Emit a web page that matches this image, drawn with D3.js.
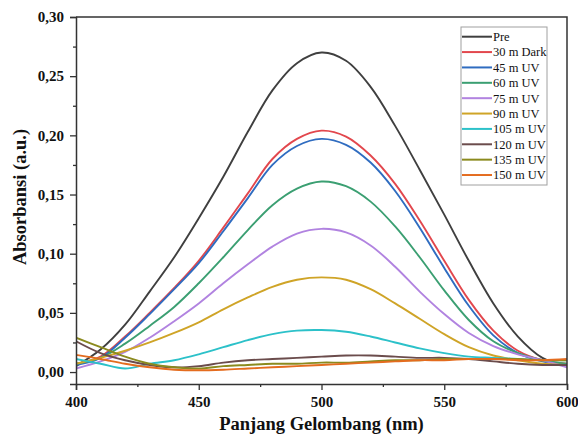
<!DOCTYPE html>
<html>
<head>
<meta charset="utf-8">
<script src="https://cdn.jsdelivr.net/npm/d3@7"></script>
<style>
  body { margin: 0; background: #fff; }
  svg { display: block; }
</style>
</head>
<body>
<div id="chart"></div>
<script>
// UV-Vis absorbance spectra
const wavelengths = [400, 410, 420, 430, 440, 450, 460, 470, 480, 490, 500, 510, 520, 530, 540, 550, 560, 570, 580, 590, 600];

const seriesNames = ["Pre", "30 m Dark", "45 m UV", "60 m UV", "75 m UV", "90 m UV", "105 m UV", "120 m UV", "135 m UV", "150 m UV"];
const seriesColors = ["#3f3f3f", "#e2474d", "#2f6cc0", "#3b9f72", "#b183e0", "#cfa427", "#2cc1c9", "#6b4c4c", "#8b8a1e", "#e46c1f"];

const pre    = [0.005, 0.019, 0.040, 0.068, 0.097, 0.130, 0.165, 0.203, 0.238, 0.261, 0.270, 0.263, 0.241, 0.208, 0.171, 0.133, 0.094, 0.058, 0.030, 0.012, 0.005];
const dark30 = [0.007, 0.013, 0.030, 0.050, 0.071, 0.094, 0.122, 0.151, 0.180, 0.197, 0.204, 0.199, 0.183, 0.159, 0.128, 0.094, 0.061, 0.035, 0.018, 0.010, 0.007];
const uv45   = [0.006, 0.012, 0.029, 0.049, 0.070, 0.092, 0.119, 0.147, 0.175, 0.191, 0.197, 0.192, 0.177, 0.153, 0.122, 0.088, 0.056, 0.031, 0.016, 0.009, 0.006];
const uv60   = [0.007, 0.012, 0.024, 0.039, 0.055, 0.075, 0.097, 0.120, 0.141, 0.155, 0.161, 0.157, 0.144, 0.123, 0.097, 0.069, 0.044, 0.026, 0.016, 0.010, 0.007];
const uv75   = [0.003, 0.009, 0.017, 0.029, 0.043, 0.058, 0.075, 0.091, 0.106, 0.117, 0.121, 0.118, 0.107, 0.089, 0.068, 0.049, 0.033, 0.022, 0.015, 0.010, 0.004];
const uv90   = [0.007, 0.012, 0.018, 0.025, 0.033, 0.042, 0.053, 0.063, 0.072, 0.078, 0.080, 0.078, 0.070, 0.058, 0.045, 0.032, 0.021, 0.014, 0.010, 0.007, 0.006];
const uv105  = [0.011, 0.007, 0.003, 0.007, 0.010, 0.015, 0.021, 0.027, 0.032, 0.035, 0.0355, 0.034, 0.030, 0.025, 0.020, 0.016, 0.013, 0.012, 0.011, 0.010, 0.010];
const uv120  = [0.026, 0.016, 0.010, 0.006, 0.004, 0.005, 0.008, 0.010, 0.011, 0.012, 0.013, 0.014, 0.014, 0.013, 0.012, 0.012, 0.011, 0.009, 0.007, 0.006, 0.006];
const uv135  = [0.029, 0.021, 0.013, 0.007, 0.004, 0.003, 0.005, 0.006, 0.007, 0.007, 0.008, 0.008, 0.009, 0.010, 0.010, 0.011, 0.011, 0.011, 0.011, 0.010, 0.010];
const uv150  = [0.0145, 0.011, 0.007, 0.004, 0.002, 0.0015, 0.002, 0.003, 0.004, 0.005, 0.006, 0.007, 0.008, 0.009, 0.010, 0.010, 0.011, 0.011, 0.010, 0.010, 0.011];

const seriesValues = [pre, dark30, uv45, uv60, uv75, uv90, uv105, uv120, uv135, uv150];

const xTicks = [400, 450, 500, 550, 600];
const xMinorTicks = [425, 475, 525, 575];
const yTicks = [0, 0.05, 0.10, 0.15, 0.20, 0.25, 0.30];
const yMinorTicks = [0.025, 0.075, 0.125, 0.175, 0.225, 0.275];

const width = 578, height = 436;
const margin = { top: 17, right: 11, bottom: 52, left: 76 };
const yMin = -0.0101, yMax = 0.30;
const serif = "'Liberation Serif', 'Times New Roman', serif";

const svg = d3.select("#chart").append("svg")
  .attr("width", width)
  .attr("height", height);

const x = d3.scaleLinear().domain([400, 600]).range([margin.left, width - margin.right]);
const y = d3.scaleLinear().domain([yMin, yMax]).range([height - margin.bottom, margin.top]);

const fmt = d => d3.format(".2f")(d).replace(".", ",");

// clip lines to plot area
svg.append("clipPath").attr("id", "plot-clip")
  .append("rect")
  .attr("x", margin.left).attr("y", margin.top)
  .attr("width", x(600) - x(400)).attr("height", y(yMin) - y(yMax));

// series
const line = d3.line()
  .x((d, i) => x(wavelengths[i]))
  .y(d => y(d))
  .curve(d3.curveCatmullRom.alpha(0.5));

svg.append("g").attr("clip-path", "url(#plot-clip)")
  .selectAll("path")
  .data(seriesValues)
  .join("path")
  .attr("d", d => line(d))
  .attr("fill", "none")
  .attr("stroke", (d, i) => seriesColors[i])
  .attr("stroke-width", 1.9)
  .attr("stroke-linejoin", "round");

// axes
svg.append("g")
  .attr("transform", `translate(0,${height - margin.bottom})`)
  .call(d3.axisBottom(x).tickValues(xTicks).tickSize(6).tickPadding(6).tickFormat(d3.format("d")));
svg.append("g")
  .attr("transform", `translate(0,${height - margin.bottom})`)
  .call(d3.axisBottom(x).tickValues(xMinorTicks).tickSize(3).tickFormat(""))
  .call(g => g.select(".domain").remove());

svg.append("g")
  .attr("transform", `translate(${margin.left},0)`)
  .call(d3.axisLeft(y).tickValues(yTicks).tickSize(6).tickPadding(6).tickFormat(fmt));
svg.append("g")
  .attr("transform", `translate(${margin.left},0)`)
  .call(d3.axisLeft(y).tickValues(yMinorTicks).tickSize(3).tickFormat(""))
  .call(g => g.select(".domain").remove());

svg.selectAll(".tick line").attr("stroke", "#333").attr("stroke-width", 1.3);
svg.selectAll(".domain").attr("stroke", "#333").attr("stroke-width", 1.5);
svg.selectAll(".tick text")
  .style("font-family", serif)
  .style("font-weight", "bold")
  .style("font-size", "15px")
  .attr("fill", "#111");

// frame (top and right)
svg.append("path")
  .attr("d", `M${x(400)},${y(yMax)}H${x(600)}V${y(yMin)}`)
  .attr("fill", "none")
  .attr("stroke", "#333")
  .attr("stroke-width", 1.5);

// axis titles
svg.append("text")
  .attr("x", (x(400) + x(600)) / 2)
  .attr("y", 430)
  .attr("text-anchor", "middle")
  .style("font-family", serif)
  .style("font-weight", "bold")
  .style("font-size", "18.5px")
  .attr("fill", "#111")
  .text("Panjang Gelombang (nm)");

svg.append("text")
  .attr("transform", `translate(26,197) rotate(-90)`)
  .attr("text-anchor", "middle")
  .style("font-family", serif)
  .style("font-weight", "bold")
  .style("font-size", "18.5px")
  .attr("fill", "#111")
  .text("Absorbansi (a.u.)");

// legend
const legend = svg.append("g").attr("transform", "translate(461,27)");
legend.append("rect")
  .attr("width", 86).attr("height", 158)
  .attr("fill", "#fff")
  .attr("stroke", "#a0a0a0")
  .attr("stroke-width", 1);

const rows = legend.selectAll("g.row")
  .data(seriesNames)
  .join("g")
  .attr("class", "row")
  .attr("transform", (d, i) => `translate(0,${9.7 + i * 15.37})`);

rows.append("line")
  .attr("x1", 1).attr("x2", 31)
  .attr("stroke", (d, i) => seriesColors[i])
  .attr("stroke-width", 2);

rows.append("text")
  .attr("x", 32)
  .attr("dy", "0.35em")
  .style("font-family", serif)
  .style("font-size", "12.5px")
  .attr("fill", "#111")
  .text(d => d);
</script>
</body>
</html>
